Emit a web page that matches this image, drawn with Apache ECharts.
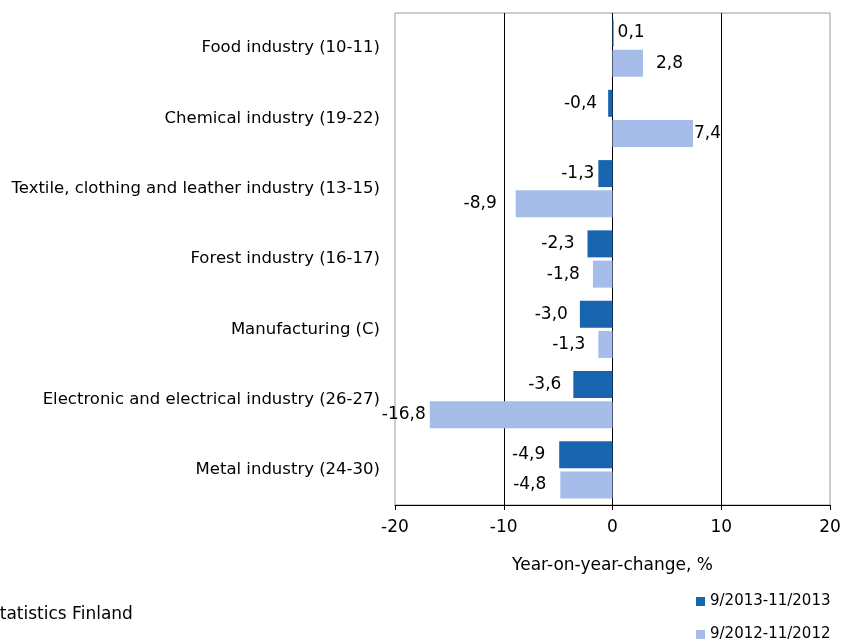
<!DOCTYPE html>
<html>
<head>
<meta charset="utf-8">
<script src="https://cdn.jsdelivr.net/npm/echarts@6/dist/echarts.min.js"></script>
<style>
  html, body { margin: 0; padding: 0; background: #fff; }
  #main { width: 841px; height: 641px; }
</style>
</head>
<body>
<div id="main"></div>
<script>
// categories, top to bottom
const categories = [
  'Food industry (10-11)',
  'Chemical industry (19-22)',
  'Textile, clothing and leather industry (13-15)',
  'Forest industry (16-17)',
  'Manufacturing (C)',
  'Electronic and electrical industry (26-27)',
  'Metal industry (24-30)'
];
const seriesNames = ['9/2013-11/2013', '9/2012-11/2012'];
const values2013 = [0.1, -0.4, -1.3, -2.3, -3.0, -3.6, -4.9];
const values2012 = [2.8, 7.4, -8.9, -1.8, -1.3, -16.8, -4.8];
const xTicks = [-20, -10, 0, 10, 20];

// label spacing from bar end, as placed in the original
const labelGap2013 = [4, 11, 4, 13, 12, 12, 14];
const labelGap2012 = [13, 1, 19, 13, 13, 4, 14];

const font = '"DejaVu Sans", Verdana, sans-serif';
const colors = ['#1864ae', '#a6bce9'];

function barData(vals, gaps) {
  return vals.map((v, i) => ({
    value: v,
    label: { position: v >= 0 ? 'right' : 'left', distance: gaps[i] }
  }));
}

const fmt = p => p.value.toFixed(1).replace('.', ',');

const legendBase = {
  orient: 'vertical', left: 691,
  itemWidth: 9, itemHeight: 9, icon: 'rect',
  textStyle: { fontSize: 15, color: '#000', fontFamily: font }
};

const chart = echarts.init(document.getElementById('main'));

chart.setOption({
  animation: false,
  textStyle: { fontFamily: font },
  grid: {
    left: 395, right: 11, top: 13, bottom: 136,
    outerBoundsMode: 'none', containLabel: false,
    show: true, borderColor: '#9a9a9a', borderWidth: 1
  },
  legend: [
    Object.assign({}, legendBase, { top: 589, data: [seriesNames[0]] }),
    Object.assign({}, legendBase, { top: 622, data: [seriesNames[1]] })
  ],
  xAxis: {
    type: 'value',
    min: xTicks[0], max: xTicks[xTicks.length - 1], interval: 10,
    name: 'Year-on-year-change, %',
    nameLocation: 'middle', nameGap: 52,
    nameTextStyle: { fontSize: 17, color: '#000' },
    axisLine: { show: true, lineStyle: { color: '#000' } },
    axisTick: { show: true, length: 5, lineStyle: { color: '#000' } },
    axisLabel: { fontSize: 17, color: '#000', margin: 14 },
    splitLine: { show: true, showMinLine: false, showMaxLine: false, lineStyle: { color: '#000', width: 1 } }
  },
  yAxis: {
    type: 'category',
    inverse: true,
    data: categories,
    axisLine: { show: false, onZero: false },
    axisTick: { show: false },
    axisLabel: { fontSize: 16.5, color: '#000', margin: 15 }
  },
  series: [
    {
      name: seriesNames[0], type: 'bar',
      barWidth: 27, barGap: '12%',
      itemStyle: { color: colors[0] },
      label: { show: true, fontSize: 17, color: '#000', formatter: fmt },
      data: barData(values2013, labelGap2013)
    },
    {
      name: seriesNames[1], type: 'bar',
      barWidth: 27, barGap: '12%',
      itemStyle: { color: colors[1] },
      label: { show: true, fontSize: 17, color: '#000', formatter: fmt },
      data: barData(values2012, labelGap2012)
    }
  ],
  graphic: [{
    type: 'text', left: -11, top: 606,
    style: { text: 'Statistics Finland', font: '17px ' + font, fill: '#000' }
  }]
});
</script>
</body>
</html>
